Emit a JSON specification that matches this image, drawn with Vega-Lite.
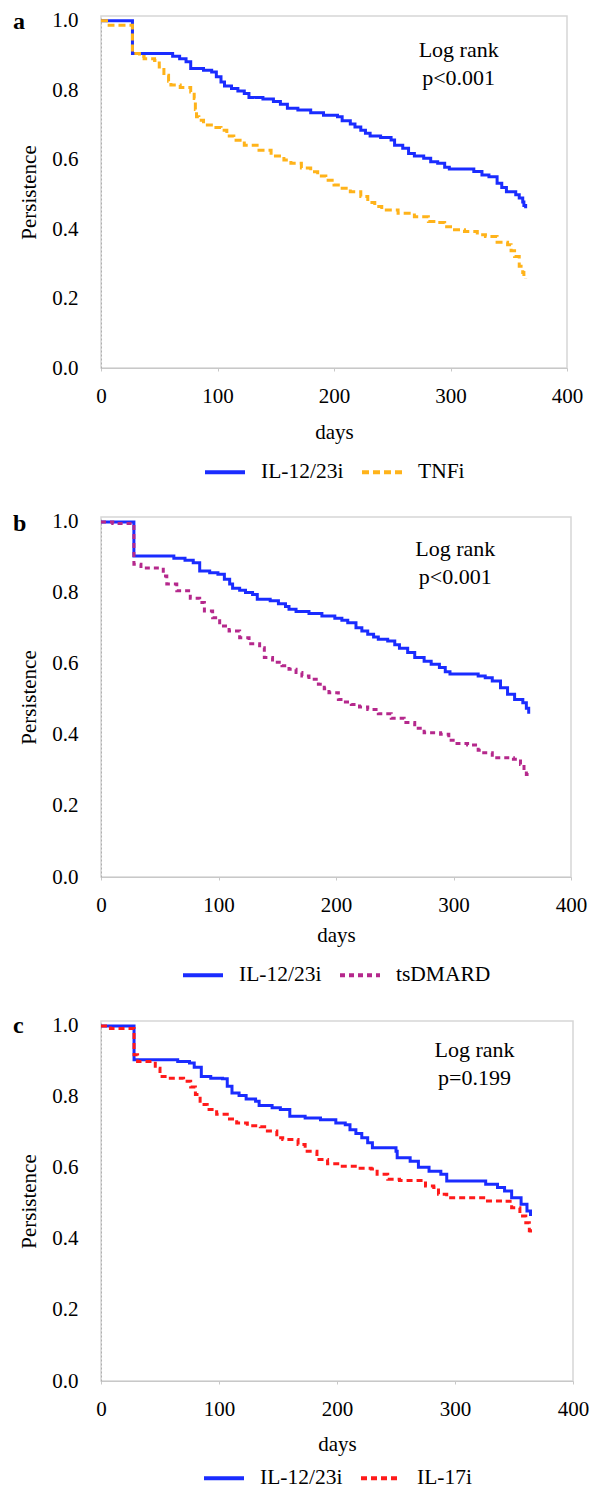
{
  "$schema": "https://vega.github.io/schema/vega-lite/v6.json",
  "padding": {"left": 12, "top": 9, "right": 0, "bottom": 0},
  "background": "white",
  "config": {
    "font": "Liberation Serif",
    "view": {"stroke": "#d6d6d6", "strokeWidth": 1.5},
    "concat": {"spacing": 26},
    "axis": {"labelFont": "Liberation Serif", "titleFont": "Liberation Serif", "labelFontSize": 21, "titleFontSize": 21, "titleFontWeight": "normal", "labelColor": "#000", "titleColor": "#000", "grid": false},
    "legend": {"layout": {"bottom": {"anchor": "middle"}}},
    "title": {"font": "Liberation Serif", "fontSize": 24, "fontWeight": "bold", "color": "#000", "anchor": "start", "frame": "group", "offset": 0, "dx": -88, "dy": 28}
  },
  "resolve": {"scale": {"color": "independent", "strokeDash": "independent"}, "legend": {"color": "independent", "strokeDash": "independent"}},
  "vconcat": [
    {
      "width": 466, "height": 352,
      "title": {"text": "a"},
      "layer": [
        {
          "data": {"values": [
            {"group": "IL-12/23i", "day": 0, "p": 1.0}, {"group": "IL-12/23i", "day": 27, "p": 0.906}, {"group": "IL-12/23i", "day": 61.5, "p": 0.898}, {"group": "IL-12/23i", "day": 67.5, "p": 0.891}, {"group": "IL-12/23i", "day": 73, "p": 0.882}, {"group": "IL-12/23i", "day": 77, "p": 0.863}, {"group": "IL-12/23i", "day": 88, "p": 0.858}, {"group": "IL-12/23i", "day": 95, "p": 0.853}, {"group": "IL-12/23i", "day": 99, "p": 0.839}, {"group": "IL-12/23i", "day": 103, "p": 0.824}, {"group": "IL-12/23i", "day": 106, "p": 0.812}, {"group": "IL-12/23i", "day": 112, "p": 0.805}, {"group": "IL-12/23i", "day": 117.5, "p": 0.798}, {"group": "IL-12/23i", "day": 123, "p": 0.791}, {"group": "IL-12/23i", "day": 127, "p": 0.779}, {"group": "IL-12/23i", "day": 139, "p": 0.775}, {"group": "IL-12/23i", "day": 148, "p": 0.768}, {"group": "IL-12/23i", "day": 154, "p": 0.76}, {"group": "IL-12/23i", "day": 160, "p": 0.748}, {"group": "IL-12/23i", "day": 169, "p": 0.743}, {"group": "IL-12/23i", "day": 180, "p": 0.735}, {"group": "IL-12/23i", "day": 191, "p": 0.728}, {"group": "IL-12/23i", "day": 203, "p": 0.724}, {"group": "IL-12/23i", "day": 207, "p": 0.712}, {"group": "IL-12/23i", "day": 214, "p": 0.703}, {"group": "IL-12/23i", "day": 218, "p": 0.694}, {"group": "IL-12/23i", "day": 223, "p": 0.685}, {"group": "IL-12/23i", "day": 227, "p": 0.676}, {"group": "IL-12/23i", "day": 231, "p": 0.668}, {"group": "IL-12/23i", "day": 240, "p": 0.664}, {"group": "IL-12/23i", "day": 249, "p": 0.657}, {"group": "IL-12/23i", "day": 252, "p": 0.642}, {"group": "IL-12/23i", "day": 259, "p": 0.633}, {"group": "IL-12/23i", "day": 264, "p": 0.618}, {"group": "IL-12/23i", "day": 269, "p": 0.611}, {"group": "IL-12/23i", "day": 277, "p": 0.604}, {"group": "IL-12/23i", "day": 283, "p": 0.594}, {"group": "IL-12/23i", "day": 289, "p": 0.59}, {"group": "IL-12/23i", "day": 295, "p": 0.578}, {"group": "IL-12/23i", "day": 299, "p": 0.573}, {"group": "IL-12/23i", "day": 320, "p": 0.566}, {"group": "IL-12/23i", "day": 327, "p": 0.556}, {"group": "IL-12/23i", "day": 333, "p": 0.551}, {"group": "IL-12/23i", "day": 340, "p": 0.532}, {"group": "IL-12/23i", "day": 344, "p": 0.52}, {"group": "IL-12/23i", "day": 348, "p": 0.508}, {"group": "IL-12/23i", "day": 356, "p": 0.499}, {"group": "IL-12/23i", "day": 359, "p": 0.49}, {"group": "IL-12/23i", "day": 362, "p": 0.478}, {"group": "IL-12/23i", "day": 363, "p": 0.468}, {"group": "IL-12/23i", "day": 364.5, "p": 0.46},
            {"group": "TNFi", "day": 0, "p": 1.0}, {"group": "TNFi", "day": 7, "p": 0.987}, {"group": "TNFi", "day": 27, "p": 0.906}, {"group": "TNFi", "day": 33, "p": 0.897}, {"group": "TNFi", "day": 37, "p": 0.891}, {"group": "TNFi", "day": 46, "p": 0.886}, {"group": "TNFi", "day": 50, "p": 0.867}, {"group": "TNFi", "day": 54, "p": 0.843}, {"group": "TNFi", "day": 58, "p": 0.826}, {"group": "TNFi", "day": 60, "p": 0.815}, {"group": "TNFi", "day": 68, "p": 0.808}, {"group": "TNFi", "day": 77, "p": 0.795}, {"group": "TNFi", "day": 80, "p": 0.776}, {"group": "TNFi", "day": 81, "p": 0.745}, {"group": "TNFi", "day": 82, "p": 0.724}, {"group": "TNFi", "day": 84, "p": 0.714}, {"group": "TNFi", "day": 88, "p": 0.7}, {"group": "TNFi", "day": 97, "p": 0.693}, {"group": "TNFi", "day": 103, "p": 0.685}, {"group": "TNFi", "day": 108, "p": 0.668}, {"group": "TNFi", "day": 114, "p": 0.656}, {"group": "TNFi", "day": 123, "p": 0.642}, {"group": "TNFi", "day": 134, "p": 0.627}, {"group": "TNFi", "day": 146, "p": 0.611}, {"group": "TNFi", "day": 157, "p": 0.599}, {"group": "TNFi", "day": 163, "p": 0.59}, {"group": "TNFi", "day": 172, "p": 0.576}, {"group": "TNFi", "day": 180, "p": 0.565}, {"group": "TNFi", "day": 186, "p": 0.553}, {"group": "TNFi", "day": 193, "p": 0.541}, {"group": "TNFi", "day": 200, "p": 0.527}, {"group": "TNFi", "day": 207, "p": 0.518}, {"group": "TNFi", "day": 214, "p": 0.508}, {"group": "TNFi", "day": 223, "p": 0.494}, {"group": "TNFi", "day": 229, "p": 0.477}, {"group": "TNFi", "day": 235, "p": 0.465}, {"group": "TNFi", "day": 241, "p": 0.455}, {"group": "TNFi", "day": 255, "p": 0.446}, {"group": "TNFi", "day": 269, "p": 0.436}, {"group": "TNFi", "day": 281, "p": 0.422}, {"group": "TNFi", "day": 289, "p": 0.419}, {"group": "TNFi", "day": 295, "p": 0.407}, {"group": "TNFi", "day": 300, "p": 0.398}, {"group": "TNFi", "day": 312, "p": 0.393}, {"group": "TNFi", "day": 323, "p": 0.384}, {"group": "TNFi", "day": 330, "p": 0.379}, {"group": "TNFi", "day": 340, "p": 0.362}, {"group": "TNFi", "day": 349, "p": 0.355}, {"group": "TNFi", "day": 352, "p": 0.338}, {"group": "TNFi", "day": 355, "p": 0.321}, {"group": "TNFi", "day": 359, "p": 0.293}, {"group": "TNFi", "day": 362, "p": 0.275}, {"group": "TNFi", "day": 363, "p": 0.265}, {"group": "TNFi", "day": 364.5, "p": 0.258}
          ]},
          "mark": {"type": "line", "interpolate": "step-after", "strokeWidth": 3},
          "encoding": {
            "x": {"field": "day", "type": "quantitative", "scale": {"domain": [0, 400], "nice": false, "zero": false}, "axis": {"title": "days", "values": [0, 100, 200, 300, 400], "format": "d", "labelOverlap": false, "labelBound": false, "labelFlush": false, "tickSize": 3, "tickColor": "#c8c8c8", "domainColor": "#c8c8c8", "labelPadding": 14, "titlePadding": 15}},
            "y": {"field": "p", "type": "quantitative", "scale": {"domain": [0, 1.014], "nice": false}, "axis": {"title": "Persistence", "values": [0, 0.2, 0.4, 0.6, 0.8, 1.0], "format": ".1f", "ticks": false, "tickSize": 0, "domainDash": [2, 2], "domainColor": "#b0b0b0", "labelPadding": 23, "titlePadding": 12}},
            "color": {"field": "group", "type": "nominal", "scale": {"domain": ["IL-12/23i", "TNFi"], "range": ["#1a2cff", "#ffb31a"]}, "legend": {"title": null, "orient": "bottom", "direction": "horizontal", "symbolType": "stroke", "symbolStrokeWidth": 4, "symbolSize": 1600, "labelFontSize": 21.5, "labelFont": "Liberation Serif", "labelColor": "#000", "labelOffset": 14, "columnPadding": 10, "offset": 8, "labelLimit": 0}},
            "strokeDash": {"field": "group", "type": "nominal", "scale": {"domain": ["IL-12/23i", "TNFi"], "range": [[1, 0], [7, 4]]}, "legend": {"title": null, "orient": "bottom", "direction": "horizontal", "symbolType": "stroke", "symbolStrokeWidth": 4, "symbolSize": 1600, "labelFontSize": 21.5, "labelFont": "Liberation Serif", "labelColor": "#000", "labelOffset": 14, "columnPadding": 10, "offset": 8, "labelLimit": 0}}
          }
        },
        {
          "data": {"values": [{}]},
          "mark": {"type": "text", "text": ["Log rank", "p<0.001"], "fontSize": 22, "lineHeight": 28, "align": "center", "baseline": "middle", "font": "Liberation Serif", "color": "#000"},
          "encoding": {
            "x": {"datum": 307, "type": "quantitative"},
            "y": {"datum": 0.916, "type": "quantitative"}
          }
        }
      ]
    },
    {
      "width": 470, "height": 360,
      "title": {"text": "b", "dy": 29},
      "layer": [
        {
          "data": {"values": [
            {"group": "IL-12/23i", "day": 0, "p": 1.0}, {"group": "IL-12/23i", "day": 28, "p": 0.904}, {"group": "IL-12/23i", "day": 62, "p": 0.898}, {"group": "IL-12/23i", "day": 71.5, "p": 0.892}, {"group": "IL-12/23i", "day": 78.5, "p": 0.885}, {"group": "IL-12/23i", "day": 84, "p": 0.862}, {"group": "IL-12/23i", "day": 92.5, "p": 0.857}, {"group": "IL-12/23i", "day": 99.5, "p": 0.853}, {"group": "IL-12/23i", "day": 105, "p": 0.839}, {"group": "IL-12/23i", "day": 109.5, "p": 0.825}, {"group": "IL-12/23i", "day": 112, "p": 0.813}, {"group": "IL-12/23i", "day": 118, "p": 0.808}, {"group": "IL-12/23i", "day": 123, "p": 0.801}, {"group": "IL-12/23i", "day": 129, "p": 0.796}, {"group": "IL-12/23i", "day": 133, "p": 0.782}, {"group": "IL-12/23i", "day": 144, "p": 0.778}, {"group": "IL-12/23i", "day": 151, "p": 0.77}, {"group": "IL-12/23i", "day": 157, "p": 0.762}, {"group": "IL-12/23i", "day": 160, "p": 0.754}, {"group": "IL-12/23i", "day": 166, "p": 0.748}, {"group": "IL-12/23i", "day": 177, "p": 0.742}, {"group": "IL-12/23i", "day": 188, "p": 0.735}, {"group": "IL-12/23i", "day": 199, "p": 0.729}, {"group": "IL-12/23i", "day": 205, "p": 0.723}, {"group": "IL-12/23i", "day": 210, "p": 0.716}, {"group": "IL-12/23i", "day": 217, "p": 0.702}, {"group": "IL-12/23i", "day": 222, "p": 0.693}, {"group": "IL-12/23i", "day": 227, "p": 0.684}, {"group": "IL-12/23i", "day": 232, "p": 0.676}, {"group": "IL-12/23i", "day": 236, "p": 0.67}, {"group": "IL-12/23i", "day": 244, "p": 0.665}, {"group": "IL-12/23i", "day": 250, "p": 0.654}, {"group": "IL-12/23i", "day": 254, "p": 0.644}, {"group": "IL-12/23i", "day": 261, "p": 0.632}, {"group": "IL-12/23i", "day": 267, "p": 0.618}, {"group": "IL-12/23i", "day": 275, "p": 0.608}, {"group": "IL-12/23i", "day": 281, "p": 0.599}, {"group": "IL-12/23i", "day": 288, "p": 0.59}, {"group": "IL-12/23i", "day": 293, "p": 0.578}, {"group": "IL-12/23i", "day": 297, "p": 0.572}, {"group": "IL-12/23i", "day": 321, "p": 0.566}, {"group": "IL-12/23i", "day": 327, "p": 0.561}, {"group": "IL-12/23i", "day": 333, "p": 0.552}, {"group": "IL-12/23i", "day": 340, "p": 0.533}, {"group": "IL-12/23i", "day": 346, "p": 0.515}, {"group": "IL-12/23i", "day": 352, "p": 0.5}, {"group": "IL-12/23i", "day": 359, "p": 0.491}, {"group": "IL-12/23i", "day": 362, "p": 0.475}, {"group": "IL-12/23i", "day": 364, "p": 0.46},
            {"group": "tsDMARD", "day": 0, "p": 1.0}, {"group": "tsDMARD", "day": 10, "p": 0.996}, {"group": "tsDMARD", "day": 28, "p": 0.881}, {"group": "tsDMARD", "day": 34, "p": 0.87}, {"group": "tsDMARD", "day": 50, "p": 0.867}, {"group": "tsDMARD", "day": 53, "p": 0.848}, {"group": "tsDMARD", "day": 56, "p": 0.825}, {"group": "tsDMARD", "day": 64.5, "p": 0.806}, {"group": "tsDMARD", "day": 76, "p": 0.785}, {"group": "tsDMARD", "day": 84, "p": 0.773}, {"group": "tsDMARD", "day": 88, "p": 0.749}, {"group": "tsDMARD", "day": 95, "p": 0.73}, {"group": "tsDMARD", "day": 101, "p": 0.707}, {"group": "tsDMARD", "day": 109, "p": 0.693}, {"group": "tsDMARD", "day": 118, "p": 0.674}, {"group": "tsDMARD", "day": 126, "p": 0.657}, {"group": "tsDMARD", "day": 135, "p": 0.646}, {"group": "tsDMARD", "day": 139, "p": 0.618}, {"group": "tsDMARD", "day": 146, "p": 0.605}, {"group": "tsDMARD", "day": 154, "p": 0.595}, {"group": "tsDMARD", "day": 160, "p": 0.585}, {"group": "tsDMARD", "day": 166, "p": 0.576}, {"group": "tsDMARD", "day": 171, "p": 0.566}, {"group": "tsDMARD", "day": 177, "p": 0.557}, {"group": "tsDMARD", "day": 185, "p": 0.543}, {"group": "tsDMARD", "day": 190, "p": 0.53}, {"group": "tsDMARD", "day": 194, "p": 0.519}, {"group": "tsDMARD", "day": 202, "p": 0.5}, {"group": "tsDMARD", "day": 208, "p": 0.493}, {"group": "tsDMARD", "day": 213, "p": 0.486}, {"group": "tsDMARD", "day": 220, "p": 0.479}, {"group": "tsDMARD", "day": 227, "p": 0.472}, {"group": "tsDMARD", "day": 236, "p": 0.46}, {"group": "tsDMARD", "day": 247, "p": 0.447}, {"group": "tsDMARD", "day": 258, "p": 0.435}, {"group": "tsDMARD", "day": 267, "p": 0.419}, {"group": "tsDMARD", "day": 275, "p": 0.406}, {"group": "tsDMARD", "day": 289, "p": 0.402}, {"group": "tsDMARD", "day": 296, "p": 0.385}, {"group": "tsDMARD", "day": 303, "p": 0.376}, {"group": "tsDMARD", "day": 312, "p": 0.372}, {"group": "tsDMARD", "day": 321, "p": 0.357}, {"group": "tsDMARD", "day": 324, "p": 0.35}, {"group": "tsDMARD", "day": 333, "p": 0.336}, {"group": "tsDMARD", "day": 351, "p": 0.332}, {"group": "tsDMARD", "day": 357, "p": 0.317}, {"group": "tsDMARD", "day": 360, "p": 0.3}, {"group": "tsDMARD", "day": 362, "p": 0.289}, {"group": "tsDMARD", "day": 364, "p": 0.28}
          ]},
          "mark": {"type": "line", "interpolate": "step-after", "strokeWidth": 3},
          "encoding": {
            "x": {"field": "day", "type": "quantitative", "scale": {"domain": [0, 400], "nice": false, "zero": false}, "axis": {"title": "days", "values": [0, 100, 200, 300, 400], "format": "d", "labelOverlap": false, "labelBound": false, "labelFlush": false, "tickSize": 3, "tickColor": "#c8c8c8", "domainColor": "#c8c8c8", "labelPadding": 14, "titlePadding": 9}},
            "y": {"field": "p", "type": "quantitative", "scale": {"domain": [0, 1.014], "nice": false}, "axis": {"title": "Persistence", "values": [0, 0.2, 0.4, 0.6, 0.8, 1.0], "format": ".1f", "ticks": false, "tickSize": 0, "domainDash": [2, 2], "domainColor": "#b0b0b0", "labelPadding": 23, "titlePadding": 12}},
            "color": {"field": "group", "type": "nominal", "scale": {"domain": ["IL-12/23i", "tsDMARD"], "range": ["#1a2cff", "#b5288c"]}, "legend": {"title": null, "orient": "bottom", "direction": "horizontal", "symbolType": "stroke", "symbolStrokeWidth": 4, "symbolSize": 1600, "labelFontSize": 21.5, "labelFont": "Liberation Serif", "labelColor": "#000", "labelOffset": 14, "columnPadding": 10, "offset": 8, "labelLimit": 0}},
            "strokeDash": {"field": "group", "type": "nominal", "scale": {"domain": ["IL-12/23i", "tsDMARD"], "range": [[1, 0], [5, 4]]}, "legend": {"title": null, "orient": "bottom", "direction": "horizontal", "symbolType": "stroke", "symbolStrokeWidth": 4, "symbolSize": 1600, "labelFontSize": 21.5, "labelFont": "Liberation Serif", "labelColor": "#000", "labelOffset": 14, "columnPadding": 10, "offset": 8, "labelLimit": 0}}
          }
        },
        {
          "data": {"values": [{}]},
          "mark": {"type": "text", "text": ["Log rank", "p<0.001"], "fontSize": 22, "lineHeight": 28, "align": "center", "baseline": "middle", "font": "Liberation Serif", "color": "#000"},
          "encoding": {
            "x": {"datum": 301.5, "type": "quantitative"},
            "y": {"datum": 0.924, "type": "quantitative"}
          }
        }
      ]
    },
    {
      "width": 472, "height": 360,
      "title": {"text": "c", "dy": 27},
      "layer": [
        {
          "data": {"values": [
            {"group": "IL-12/23i", "day": 0, "p": 1.0}, {"group": "IL-12/23i", "day": 28, "p": 0.905}, {"group": "IL-12/23i", "day": 65, "p": 0.9}, {"group": "IL-12/23i", "day": 75, "p": 0.896}, {"group": "IL-12/23i", "day": 79, "p": 0.884}, {"group": "IL-12/23i", "day": 85, "p": 0.858}, {"group": "IL-12/23i", "day": 93, "p": 0.853}, {"group": "IL-12/23i", "day": 103, "p": 0.851}, {"group": "IL-12/23i", "day": 107, "p": 0.83}, {"group": "IL-12/23i", "day": 111, "p": 0.811}, {"group": "IL-12/23i", "day": 117, "p": 0.804}, {"group": "IL-12/23i", "day": 123, "p": 0.794}, {"group": "IL-12/23i", "day": 131, "p": 0.788}, {"group": "IL-12/23i", "day": 134, "p": 0.776}, {"group": "IL-12/23i", "day": 145, "p": 0.77}, {"group": "IL-12/23i", "day": 152, "p": 0.765}, {"group": "IL-12/23i", "day": 160, "p": 0.746}, {"group": "IL-12/23i", "day": 173, "p": 0.741}, {"group": "IL-12/23i", "day": 186, "p": 0.736}, {"group": "IL-12/23i", "day": 199, "p": 0.727}, {"group": "IL-12/23i", "day": 207, "p": 0.722}, {"group": "IL-12/23i", "day": 211, "p": 0.708}, {"group": "IL-12/23i", "day": 216, "p": 0.697}, {"group": "IL-12/23i", "day": 221, "p": 0.685}, {"group": "IL-12/23i", "day": 226, "p": 0.671}, {"group": "IL-12/23i", "day": 230, "p": 0.657}, {"group": "IL-12/23i", "day": 250, "p": 0.647}, {"group": "IL-12/23i", "day": 251, "p": 0.629}, {"group": "IL-12/23i", "day": 262, "p": 0.619}, {"group": "IL-12/23i", "day": 269, "p": 0.602}, {"group": "IL-12/23i", "day": 278, "p": 0.591}, {"group": "IL-12/23i", "day": 288, "p": 0.582}, {"group": "IL-12/23i", "day": 293, "p": 0.563}, {"group": "IL-12/23i", "day": 326, "p": 0.554}, {"group": "IL-12/23i", "day": 336, "p": 0.545}, {"group": "IL-12/23i", "day": 342, "p": 0.535}, {"group": "IL-12/23i", "day": 348, "p": 0.516}, {"group": "IL-12/23i", "day": 356, "p": 0.498}, {"group": "IL-12/23i", "day": 361, "p": 0.479}, {"group": "IL-12/23i", "day": 364, "p": 0.465},
            {"group": "IL-17i", "day": 0, "p": 1.0}, {"group": "IL-17i", "day": 8, "p": 0.993}, {"group": "IL-17i", "day": 28, "p": 0.919}, {"group": "IL-17i", "day": 31, "p": 0.9}, {"group": "IL-17i", "day": 46, "p": 0.881}, {"group": "IL-17i", "day": 50, "p": 0.858}, {"group": "IL-17i", "day": 56, "p": 0.853}, {"group": "IL-17i", "day": 70, "p": 0.844}, {"group": "IL-17i", "day": 76, "p": 0.828}, {"group": "IL-17i", "day": 80, "p": 0.807}, {"group": "IL-17i", "day": 84, "p": 0.779}, {"group": "IL-17i", "day": 90, "p": 0.765}, {"group": "IL-17i", "day": 98, "p": 0.751}, {"group": "IL-17i", "day": 107, "p": 0.738}, {"group": "IL-17i", "day": 115, "p": 0.727}, {"group": "IL-17i", "day": 124, "p": 0.719}, {"group": "IL-17i", "day": 135, "p": 0.716}, {"group": "IL-17i", "day": 141, "p": 0.704}, {"group": "IL-17i", "day": 149, "p": 0.685}, {"group": "IL-17i", "day": 154, "p": 0.68}, {"group": "IL-17i", "day": 167, "p": 0.666}, {"group": "IL-17i", "day": 173, "p": 0.647}, {"group": "IL-17i", "day": 183, "p": 0.624}, {"group": "IL-17i", "day": 192, "p": 0.612}, {"group": "IL-17i", "day": 202, "p": 0.605}, {"group": "IL-17i", "day": 218, "p": 0.599}, {"group": "IL-17i", "day": 229, "p": 0.597}, {"group": "IL-17i", "day": 234, "p": 0.582}, {"group": "IL-17i", "day": 243, "p": 0.568}, {"group": "IL-17i", "day": 253, "p": 0.565}, {"group": "IL-17i", "day": 269, "p": 0.565}, {"group": "IL-17i", "day": 275, "p": 0.549}, {"group": "IL-17i", "day": 282, "p": 0.545}, {"group": "IL-17i", "day": 286, "p": 0.526}, {"group": "IL-17i", "day": 293, "p": 0.516}, {"group": "IL-17i", "day": 326, "p": 0.507}, {"group": "IL-17i", "day": 342, "p": 0.506}, {"group": "IL-17i", "day": 348, "p": 0.488}, {"group": "IL-17i", "day": 355, "p": 0.465}, {"group": "IL-17i", "day": 360, "p": 0.446}, {"group": "IL-17i", "day": 363, "p": 0.423}, {"group": "IL-17i", "day": 364, "p": 0.415}
          ]},
          "mark": {"type": "line", "interpolate": "step-after", "strokeWidth": 3},
          "encoding": {
            "x": {"field": "day", "type": "quantitative", "scale": {"domain": [0, 400], "nice": false, "zero": false}, "axis": {"title": "days", "values": [0, 100, 200, 300, 400], "format": "d", "labelOverlap": false, "labelBound": false, "labelFlush": false, "tickSize": 3, "tickColor": "#c8c8c8", "domainColor": "#c8c8c8", "labelPadding": 14, "titlePadding": 14}},
            "y": {"field": "p", "type": "quantitative", "scale": {"domain": [0, 1.014], "nice": false}, "axis": {"title": "Persistence", "values": [0, 0.2, 0.4, 0.6, 0.8, 1.0], "format": ".1f", "ticks": false, "tickSize": 0, "domainDash": [2, 2], "domainColor": "#b0b0b0", "labelPadding": 23, "titlePadding": 12}},
            "color": {"field": "group", "type": "nominal", "scale": {"domain": ["IL-12/23i", "IL-17i"], "range": ["#1a2cff", "#ff1a1a"]}, "legend": {"title": null, "orient": "bottom", "direction": "horizontal", "symbolType": "stroke", "symbolStrokeWidth": 4, "symbolSize": 1600, "labelFontSize": 21.5, "labelFont": "Liberation Serif", "labelColor": "#000", "labelOffset": 14, "columnPadding": 10, "offset": 2, "labelLimit": 0}},
            "strokeDash": {"field": "group", "type": "nominal", "scale": {"domain": ["IL-12/23i", "IL-17i"], "range": [[1, 0], [6, 4]]}, "legend": {"title": null, "orient": "bottom", "direction": "horizontal", "symbolType": "stroke", "symbolStrokeWidth": 4, "symbolSize": 1600, "labelFontSize": 21.5, "labelFont": "Liberation Serif", "labelColor": "#000", "labelOffset": 14, "columnPadding": 10, "offset": 2, "labelLimit": 0}}
          }
        },
        {
          "data": {"values": [{}]},
          "mark": {"type": "text", "text": ["Log rank", "p=0.199"], "fontSize": 22, "lineHeight": 28, "align": "center", "baseline": "middle", "font": "Liberation Serif", "color": "#000"},
          "encoding": {
            "x": {"datum": 316.5, "type": "quantitative"},
            "y": {"datum": 0.931, "type": "quantitative"}
          }
        }
      ]
    }
  ]
}
